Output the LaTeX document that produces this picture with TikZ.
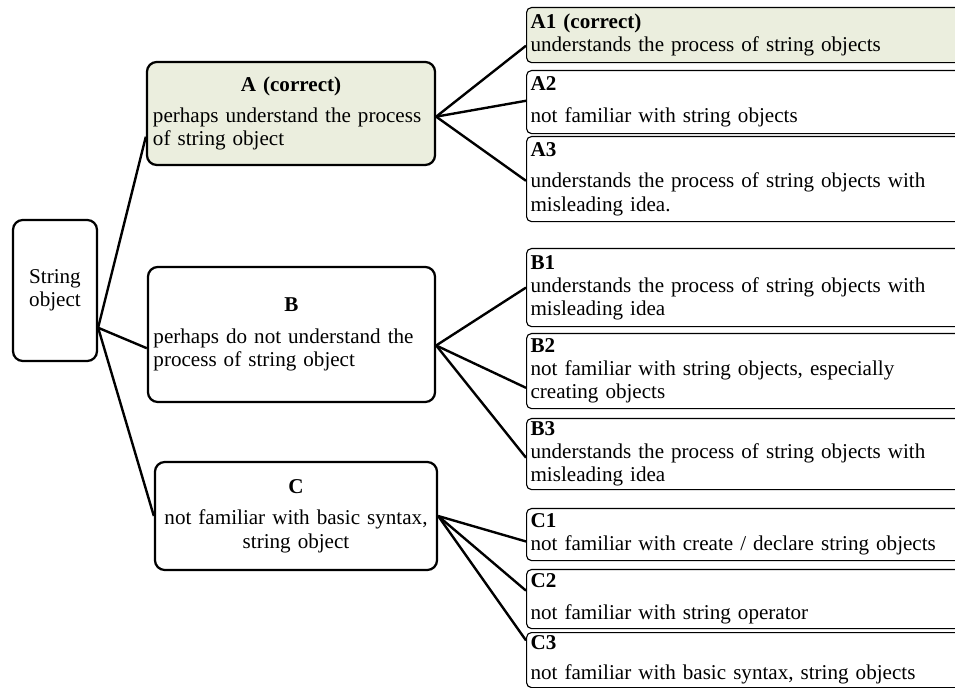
\documentclass[tikz,border=0pt]{standalone}
\usepackage{fontspec}
\setmainfont{Liberation Serif}
\usetikzlibrary{calc}
\definecolor{okfill}{HTML}{EBEEDE}

\begin{document}
\begin{tikzpicture}[x=0.025cm, y=-0.025cm,
  font=\fontsize{15}{16.5}\selectfont,
  rootbox/.style={draw, line width=1.6pt, rounded corners=7pt, align=center},
  groupbox/.style={draw, line width=1.6pt, rounded corners=7pt, inner sep=0pt},
  leafbox/.style={draw, line width=0.8pt, rounded corners=3.5pt, anchor=north west,
    minimum width=11.5cm, text width=11.3cm, align=left, inner xsep=1pt, inner ysep=0pt},
  link/.style={line width=1.7pt},
]
  \useasboundingbox (0,0) rectangle (955,688);

  % root
  \node[rootbox, minimum width=2.1cm, minimum height=3.525cm] (root) at (55,290.5)
    {String\\object};

  % middle level
  \node[groupbox, fill=okfill, minimum width=7.2cm, minimum height=2.575cm, text width=6.9cm,
    align=left] (grpA) at (291,113.5)
    {{\centering\textbf{A (correct)}\par}\vspace{5pt}
     perhaps understand the process\\of string object};
  \node[groupbox, minimum width=7.175cm, minimum height=3.375cm, text width=6.9cm,
    align=left] (grpB) at (291.5,334.5)
    {{\centering\textbf{B}\par}\vspace{6pt}
     perhaps do not understand the\\process of string object};
  \node[groupbox, minimum width=7.05cm, minimum height=2.7cm, text width=6.9cm,
    align=center] (grpC) at (296,516)
    {\textbf{C}\\[6pt]not familiar with basic syntax,\\string object};

  % leaves
  \node[leafbox, fill=okfill, minimum height=1.375cm] (a1) at (526,7)
    {\textbf{A1 (correct)}\\understands the process of string objects};
  \node[leafbox, minimum height=1.575cm] (a2) at (526,70)
    {\textbf{A2}\\[6pt]not familiar with string objects};
  \node[leafbox, minimum height=2.125cm] (a3) at (526,136)
    {\textbf{A3}\\[6pt]understands the process of string objects with\\misleading idea.};
  \node[leafbox, minimum height=1.95cm] (b1) at (526,248)
    {\textbf{B1}\\understands the process of string objects with\\misleading idea};
  \node[leafbox, minimum height=1.875cm] (b2) at (526,333)
    {\textbf{B2}\\not familiar with string objects, especially\\creating objects};
  \node[leafbox, minimum height=1.775cm] (b3) at (526,418)
    {\textbf{B3}\\understands the process of string objects with\\misleading idea};
  \node[leafbox, minimum height=1.3cm] (c1) at (526,508)
    {\textbf{C1}\\not familiar with create / declare string objects};
  \node[leafbox, minimum height=1.475cm] (c2) at (526,569)
    {\textbf{C2}\\[6pt]not familiar with string operator};
  \node[leafbox, minimum height=1.375cm] (c3) at (526,632)
    {\textbf{C3}\\[5pt]not familiar with basic syntax, string objects};

  % root to groups
  \draw[link] ($(root.north east)!0.76!(root.south east)$) -- ($(grpA.north west)!0.72!(grpA.south west)$);
  \draw[link] ($(root.north east)!0.76!(root.south east)$) -- ($(grpB.north west)!0.6!(grpB.south west)$);
  \draw[link] ($(root.north east)!0.76!(root.south east)$) -- (grpC.west);

  % groups to leaves
  \draw[link] ($(grpA.north east)!0.53!(grpA.south east)$) -- ($(a1.north west)!0.69!(a1.south west)$);
  \draw[link] ($(grpA.north east)!0.53!(grpA.south east)$) -- ($(a2.north west)!0.48!(a2.south west)$);
  \draw[link] ($(grpA.north east)!0.53!(grpA.south east)$) -- ($(a3.north west)!0.52!(a3.south west)$);
  \draw[link] ($(grpB.north east)!0.58!(grpB.south east)$) -- ($(b1.north west)!0.5!(b1.south west)$);
  \draw[link] ($(grpB.north east)!0.58!(grpB.south east)$) -- ($(b2.north west)!0.72!(b2.south west)$);
  \draw[link] ($(grpB.north east)!0.58!(grpB.south east)$) -- ($(b3.north west)!0.55!(b3.south west)$);
  \draw[link] (grpC.east) -- ($(c1.north west)!0.63!(c1.south west)$);
  \draw[link] (grpC.east) -- ($(c2.north west)!0.36!(c2.south west)$);
  \draw[link] (grpC.east) -- ($(c3.north west)!0.15!(c3.south west)$);
\end{tikzpicture}
\end{document}
